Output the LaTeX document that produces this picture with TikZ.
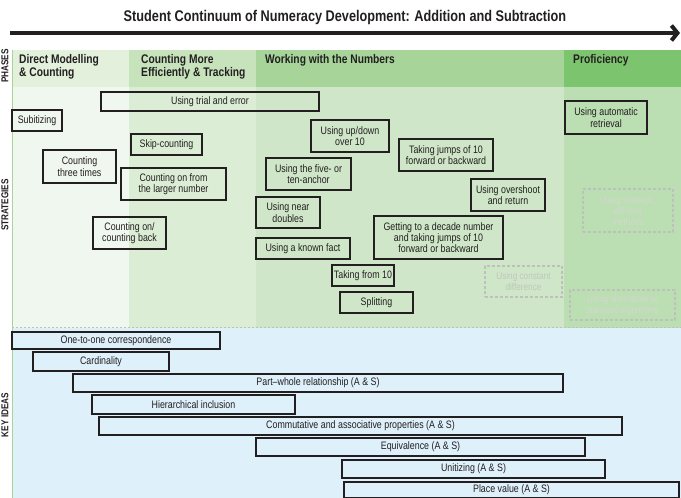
\documentclass[tikz,border=0pt]{standalone}
\usepackage{fontspec}
\setmainfont{Liberation Sans}[FakeStretch=0.82]
\usetikzlibrary{arrows.meta}

\definecolor{hdA}{HTML}{E2F0DC}
\definecolor{hdB}{HTML}{C6E3BC}
\definecolor{hdC}{HTML}{A6D499}
\definecolor{hdD}{HTML}{7CC46D}
\definecolor{stA}{HTML}{F0F7EE}
\definecolor{stB}{HTML}{DCEDD6}
\definecolor{stC}{HTML}{CFE7C8}
\definecolor{stD}{HTML}{BBDFB2}
\definecolor{keyBg}{HTML}{DEF0FA}
\definecolor{ink}{HTML}{231F20}
\definecolor{ghost}{HTML}{BDC1BB}
\definecolor{ghosttext}{HTML}{BFC6BD}
\definecolor{ghostlight}{HTML}{D2D8CF}

\tikzset{
  strat/.style={draw=ink, line width=1.6pt, align=center, inner sep=0pt,
    text=ink, font=\fontsize{10.8}{11.3}\selectfont},
  ghostbox/.style={draw=ghost, line width=1.2pt, dash pattern=on 3pt off 2pt,
    align=center, inner sep=0pt, text=ghosttext, font=\fontsize{10}{11}\selectfont},
  keybar/.style={draw=ink, line width=1.6pt, inner sep=0pt, text=ink,
    font=\fontsize{10.8}{11.3}\selectfont},
  phase/.style={anchor=north west, align=left, inner sep=0pt, text=ink,
    font=\fontsize{12.5}{13}\selectfont\bfseries},
  rowlabel/.style={rotate=90, inner sep=0pt, text=ink,
    font=\fontsize{10}{11}\selectfont\bfseries}
}

\begin{document}
\begin{tikzpicture}[x=1pt,y=-1pt]
\useasboundingbox (0,0) rectangle (681,498);
\clip (0,0) rectangle (681,498);

% phase header band
\fill[hdA] (12,50) rectangle (129,87);
\fill[hdB] (129,50) rectangle (256,87);
\fill[hdC] (256,50) rectangle (564,87);
\fill[hdD] (564,50) rectangle (681,87);

% strategies band
\fill[stA] (12,87) rectangle (129,328);
\fill[stB] (129,87) rectangle (256,328);
\fill[stC] (256,87) rectangle (564,328);
\fill[stD] (564,87) rectangle (681,328);

% key ideas band
\fill[keyBg] (12,328) rectangle (681,498);
\draw[ghost, line width=1.5pt, dash pattern=on 2pt off 2pt] (12,327.5) -- (681,327.5);
\draw[hdC, line width=0.8pt] (12,50) -- (12,498);

% title and direction arrow
\node[font=\fontsize{15.5}{17}\selectfont\bfseries, text=ink] (title) at (345,17)
  {Student Continuum of Numeracy Development: Addition and Subtraction};
\coordinate (arrS) at (10,33);
\coordinate (arrE) at (680,33);
\draw[ink, line width=4pt, -{Straight Barb[length=6pt,width=15pt]}] (arrS) -- (arrE);

% row labels
\node[rowlabel] (lblP) at (5,66) {PHASES};
\node[rowlabel] (lblS) at (5,205) {STRATEGIES};
\node[rowlabel] (lblK) at (5,415) {KEY IDEAS};

% phase titles
\node[phase] (ph1) at (19,54) {Direct Modelling\\\& Counting};
\node[phase] (ph2) at (141,54) {Counting More\\Efficiently \& Tracking};
\node[phase] (ph3) at (265,54) {Working with the Numbers};
\node[phase] (ph4) at (573,54) {Proficiency};

% strategies
\node[strat, minimum width=218, minimum height=19] (trial) at (210,101.5) {Using trial and error};
\node[strat, minimum width=50, minimum height=21] (subit) at (37,120.5) {Subitizing};
\node[strat, minimum width=73, minimum height=33] (three) at (79.5,166.5) {Counting\\three times};
\node[strat, minimum width=71, minimum height=21] (skip) at (166.5,144.5) {Skip-counting};
\node[strat, minimum width=105, minimum height=32] (larger) at (173.5,184) {Counting on from\\the larger number};
\node[strat, minimum width=73, minimum height=32] (onback) at (129.5,233) {Counting on/\\counting back};
\node[strat, minimum width=78, minimum height=32] (updown) at (350,136) {Using up/down\\over 10};
\node[strat, minimum width=94, minimum height=32] (jumps) at (446,155) {Taking jumps of 10\\forward or backward};
\node[strat, minimum width=85, minimum height=32] (anchor) at (308.5,174) {Using the five- or\\ten-anchor};
\node[strat, minimum width=64, minimum height=31] (near) at (288,212.5) {Using near\\doubles};
\node[strat, minimum width=94, minimum height=21] (known) at (303,248.5) {Using a known fact};
\node[strat, minimum width=74, minimum height=32] (overshoot) at (508,195) {Using overshoot\\and return};
\node[strat, minimum width=129, minimum height=43] (decade) at (438.5,237.5) {Getting to a decade number\\and taking jumps of 10\\forward or backward};
\node[strat, minimum width=62, minimum height=21] (fromten) at (363,275.5) {Taking from 10};
\node[strat, minimum width=73, minimum height=21] (split) at (376.5,302.5) {Splitting};
\node[strat, minimum width=82, minimum height=33] (autoret) at (606,117.5) {Using automatic\\retrieval};
\node[ghostbox, minimum width=77, minimum height=31] (constdiff) at (523.5,281.5) {Using constant\\difference};
\node[ghostbox, text=ghostlight, minimum width=90, minimum height=43] (efficient) at (628,210.5) {Using strategic,\\efficient\\methods};
\node[ghostbox, text=ghostlight, minimum width=105, minimum height=30] (altalg) at (622.5,305) {Using alternative or\\standard algorithms};

% key ideas
\node[keybar, minimum width=208, minimum height=17] (onetoone) at (116,340.5) {One-to-one correspondence};
\node[keybar, minimum width=136, minimum height=19] (card) at (101,361.5) {Cardinality};
\node[keybar, minimum width=490, minimum height=18] (partwhole) at (318,383) {Part--whole relationship (A \& S)};
\node[keybar, minimum width=203, minimum height=19] (hier) at (193.5,404.5) {Hierarchical inclusion};
\node[keybar, minimum width=523, minimum height=18] (comm) at (360.5,426) {Commutative and associative properties (A \& S)};
\node[keybar, minimum width=329, minimum height=18] (equiv) at (420.5,447) {Equivalence (A \& S)};
\node[keybar, minimum width=263, minimum height=18] (unit) at (473.5,469) {Unitizing (A \& S)};
\node[keybar, minimum width=335, minimum height=16] (place) at (511.5,490) {Place value (A \& S)};
\end{tikzpicture}
\end{document}
